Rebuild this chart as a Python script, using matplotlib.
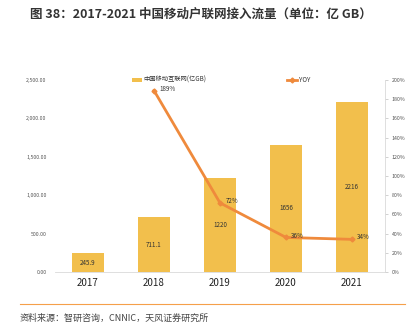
import matplotlib
matplotlib.use("Agg")
import matplotlib.pyplot as plt
from matplotlib.ticker import FuncFormatter

plt.rcParams["font.family"] = ["Noto Sans CJK SC", "DejaVu Sans"]

years = ["2017", "2018", "2019", "2020", "2021"]
traffic = [245.9, 711.1, 1220, 1656, 2216]
traffic_labels = ["245.9", "711.1", "1220", "1656", "2216"]
yoy_years = ["2018", "2019", "2020", "2021"]
yoy = [189, 72, 36, 34]

BAR = "#F2BF4C"
LINE = "#EF8A3C"

fig = plt.figure(figsize=(4.2, 3.35), dpi=100)
ax = fig.add_axes([55 / 420, 1 - 272 / 335, 330 / 420, 192 / 335])
x = list(range(len(years)))
ax.bar(x, traffic, width=0.48, color=BAR, label="中国移动互联网(亿GB)")
for xi, v, lab in zip(x, traffic, traffic_labels):
    ax.text(xi, v / 2, lab, ha="center", va="center", fontsize=4.5, color="#333333")
ax.set_xlim(-0.5, 4.5)
ax.set_ylim(0, 2500)
ax.set_yticks([0, 500, 1000, 1500, 2000, 2500])
ax.yaxis.set_major_formatter(FuncFormatter(lambda v, p: f"{v:,.2f}"))
ax.tick_params(axis="y", labelsize=3.8, length=0, pad=6, labelcolor="#555555")
ax.set_xticks(x)
ax.set_xticklabels(years, fontsize=7, color="#222222")
ax.tick_params(axis="x", length=0, pad=4)
for s in ["top", "left", "right"]:
    ax.spines[s].set_visible(False)
ax.spines["bottom"].set_color("#d9d9d9")
ax.spines["bottom"].set_linewidth(0.6)

ax2 = ax.twinx()
xl = [years.index(y) for y in yoy_years]
ax2.plot(xl, yoy, color=LINE, lw=2, marker="D", markersize=2.5, label="YOY")
for xi, v in zip(xl, yoy):
    ax2.text(xi + 0.08, v + 2, f"{v}%", fontsize=4.5, color="#333333", va="center")
ax2.set_ylim(0, 200)
ax2.set_yticks(range(0, 201, 20))
ax2.yaxis.set_major_formatter(FuncFormatter(lambda v, p: f"{v:.0f}%"))
ax2.tick_params(axis="y", labelsize=3.8, length=2, width=0.5, color="#bfbfbf",
                pad=3, labelcolor="#555555")
for s in ["top", "left", "bottom"]:
    ax2.spines[s].set_visible(False)
ax2.spines["right"].set_color("#d9d9d9")
ax2.spines["right"].set_linewidth(0.6)

h1, l1 = ax.get_legend_handles_labels()
h2, l2 = ax2.get_legend_handles_labels()
leg_kw = dict(frameon=False, fontsize=4.5, handlelength=1.6, handleheight=0.5,
              handletextpad=0.3, labelcolor="#333333", borderpad=0, borderaxespad=0)
fig.legend(h1, l1, loc="center left", bbox_to_anchor=(132 / 420, 1 - 80 / 335), **leg_kw)
fig.legend(h2, l2, loc="center left", bbox_to_anchor=(287 / 420, 1 - 80 / 335), **leg_kw)

fig.text(30 / 420, 1 - 14 / 335, "图 38：2017-2021 中国移动户联网接入流量（单位：亿 GB）",
         fontsize=9.0, fontweight="bold", color="#333333", va="center")
fig.add_artist(plt.Line2D([20 / 420, 405 / 420], [1 - 304 / 335] * 2,
                          color="#F5A04A", lw=0.8))
fig.text(20 / 420, 1 - 318 / 335, "资料来源：智研咨询，CNNIC，天风证券研究所",
         fontsize=6.5, color="#444444", va="center")

fig.savefig("out.png", dpi=100)
